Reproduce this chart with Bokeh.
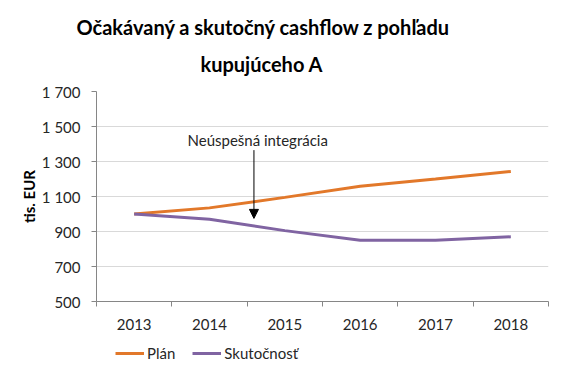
from bokeh.plotting import figure
from bokeh.layouts import column
from bokeh.models import (Range1d, FixedTicker, Label, Arrow, NormalHead, Legend, LegendItem, Title)
from bokeh.embed import file_html
from bokeh.resources import INLINE

# ---- data ----
years = ["2013", "2014", "2015", "2016", "2017", "2018"]
plan = [1000, 1035, 1095, 1158, 1200, 1243]
actual = [1000, 970, 905, 850, 850, 870]
y_ticks = [500, 700, 900, 1100, 1300, 1500, 1700]
y_tick_labels = ["500", "700", "900", "1 100", "1 300", "1 500", "1 700"]
title_lines = ["Očakávaný a skutočný cashflow z pohľadu", "kupujúceho A"]
series_names = ["Plán", "Skutočnosť"]
annotation_text = "Neúspešná integrácia"
annotation_x = 2.09
annotation_y_top = 1365
annotation_y_tip = 975
annotation_text_y = 1425
y_label = "tis. EUR"

FONT = "Lato"
AXIS_GREY = "#868686"
ORANGE = "#E2782A"
PURPLE = "#8064A2"

x = [i + 0.5 for i in range(len(years))]

p = figure(width=553, height=338, output_backend="svg", toolbar_location=None,
           x_range=Range1d(0, len(years)), y_range=Range1d(y_ticks[0], y_ticks[-1]),
           min_border_left=96, min_border_right=5, min_border_top=91, min_border_bottom=37)
p.outline_line_color = None
p.background_fill_color = "white"
p.border_fill_color = "white"

r1 = p.line(x, plan, line_color=ORANGE, line_width=3)
r2 = p.line(x, actual, line_color=PURPLE, line_width=3)

# axes
p.xgrid.visible = False
p.ygrid.ticker = FixedTicker(ticks=y_ticks)
p.ygrid.grid_line_color = "#D9D9D9"
p.ygrid.grid_line_width = 1

ya = p.yaxis[0]
ya.ticker = FixedTicker(ticks=y_ticks)
ya.major_label_overrides = {t: l for t, l in zip(y_ticks, y_tick_labels)}
ya.axis_line_color = AXIS_GREY
ya.major_tick_line_color = AXIS_GREY
ya.major_tick_out = 5
ya.major_tick_in = 0
ya.minor_tick_line_color = None
ya.major_label_text_font = FONT
ya.major_label_text_font_size = "15px"
ya.major_label_text_color = "#262626"
ya.major_label_standoff = 11
ya.axis_label = y_label
ya.axis_label_text_font = FONT
ya.axis_label_text_font_style = "bold"
ya.axis_label_text_font_size = "15px"
ya.axis_label_text_color = "#000000"
ya.axis_label_standoff = 1

xa = p.xaxis[0]
xa.ticker = FixedTicker(ticks=x, minor_ticks=list(range(len(years) + 1)))
xa.major_label_overrides = {xv: yr for xv, yr in zip(x, years)}
xa.axis_line_color = AXIS_GREY
xa.major_tick_line_color = None
xa.minor_tick_line_color = AXIS_GREY
xa.minor_tick_out = 5
xa.minor_tick_in = 0
xa.major_label_text_font = FONT
xa.major_label_text_font_size = "15px"
xa.major_label_text_color = "#262626"
xa.major_label_standoff = 11

# annotation
p.add_layout(Arrow(end=NormalHead(size=9, fill_color="black", line_color="black"),
                   x_start=annotation_x, y_start=annotation_y_top,
                   x_end=annotation_x, y_end=annotation_y_tip,
                   line_color="black", line_width=1))
p.add_layout(Label(x=annotation_x + 0.05, y=annotation_text_y, text=annotation_text,
                   text_align="center", text_baseline="middle",
                   text_font=FONT, text_font_size="15px", text_color="#262626"))

# title (two lines; second added sits above the first)
p.add_layout(Title(text=title_lines[1], align="left", offset=104, standoff=32,
                   text_font=FONT, text_font_style="bold", text_font_size="20px",
                   text_color="#000000"), "above")
p.add_layout(Title(text=title_lines[0], align="left", offset=-20, standoff=-10,
                   text_font=FONT, text_font_style="bold", text_font_size="20px",
                   text_color="#000000"), "above")

# legend in a strip below the chart
leg = figure(width=553, height=28, output_backend="svg", toolbar_location=None,
             x_range=Range1d(0, 1), y_range=Range1d(0, 1), min_border=0,
             x_axis_location=None, y_axis_location=None)
leg.outline_line_color = None
leg.grid.visible = False
lr1 = leg.line(x, plan, line_color=ORANGE, line_width=3)
lr2 = leg.line(x, actual, line_color=PURPLE, line_width=3)
legend = Legend(items=[LegendItem(label=series_names[0], renderers=[lr1]),
                       LegendItem(label=series_names[1], renderers=[lr2])],
                orientation="horizontal", location=(19, 4),
                glyph_width=29, glyph_height=16, label_standoff=3, spacing=17,
                padding=0, margin=0,
                label_text_font=FONT, label_text_font_size="15px",
                label_text_color="#262626",
                background_fill_alpha=0, border_line_color=None)
leg.add_layout(legend)

layout = column(p, leg, spacing=0)
open("out.html", "w").write(file_html(layout, INLINE))
